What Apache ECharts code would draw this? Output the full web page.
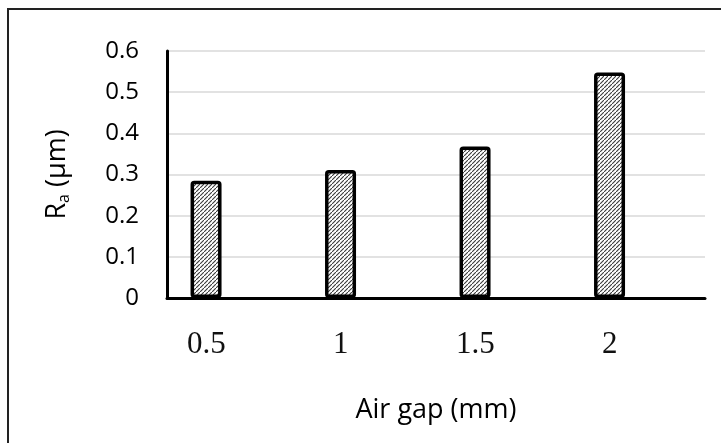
<!DOCTYPE html>
<html>
<head>
<meta charset="utf-8">
<script src="https://cdn.jsdelivr.net/npm/echarts@6/dist/echarts.min.js"></script>
<style>
  html, body { margin: 0; padding: 0; background: #fff; overflow: hidden; }
  #chart { position: absolute; left: 0; top: 0; width: 721px; height: 443px; }
  #frame { position: absolute; left: 7px; top: 8px; width: 740px; height: 460px;
           border-top: 2.5px solid #222; border-left: 2.5px solid #222; pointer-events: none; }
</style>
</head>
<body>
<div id="chart"></div>
<div id="frame"></div>
<script>
// ---- data ----
const categories = ['0.5', '1', '1.5', '2'];
const raValues = [0.285, 0.311, 0.368, 0.548];
const yTickLabels = ['0', '0.1', '0.2', '0.3', '0.4', '0.5', '0.6'];

// hatch pattern
function makeHatch() {
  const c = document.createElement('canvas');
  const s = 4;
  c.width = s; c.height = s;
  const g = c.getContext('2d');
  g.fillStyle = '#ffffff';
  g.fillRect(0, 0, s, s);
  g.strokeStyle = '#3a3a3a';
  g.lineWidth = 1.1;
  g.beginPath();
  g.moveTo(-1, s + 1); g.lineTo(s + 1, -1);
  g.moveTo(-s - 1, 1); g.lineTo(1, -s - 1);
  g.moveTo(s - 1, 2 * s + 1); g.lineTo(2 * s + 1, s - 1);
  g.stroke();
  return c;
}

const chart = echarts.init(document.getElementById('chart'), null, { renderer: 'canvas' });
const sans = '"Open Sans", "DejaVu Sans", sans-serif';
chart.setOption({
  animation: false,
  backgroundColor: '#ffffff',
  grid: { left: 167, right: 16, top: 51, bottom: 145, containLabel: false },
  xAxis: {
    type: 'category',
    data: categories,
    name: 'Air gap (mm)',
    nameLocation: 'middle',
    nameGap: 99,
    nameTextStyle: { fontFamily: sans, fontSize: 27, color: '#000' },
    axisLine: { show: true, lineStyle: { color: '#000', width: 3 } },
    axisTick: { show: false },
    splitLine: { show: false },
    axisLabel: {
      margin: 31,
      formatter: function (v) { return '{a|' + v + '}'; },
      rich: {
        a: { fontFamily: '"Liberation Serif", "Times New Roman", serif', fontSize: 31, color: '#111', padding: [0, 56, 0, 0] }
      }
    }
  },
  yAxis: {
    type: 'value',
    min: 0, max: 0.6, interval: 0.1,
    name: '{r|R}{s|a}{r| (μm)}',
    nameLocation: 'middle',
    nameGap: 95,
    nameTextStyle: {
      rich: {
        r: { fontFamily: sans, fontSize: 27, lineHeight: 30, color: '#000' },
        s: { fontFamily: sans, fontSize: 16, lineHeight: 16, verticalAlign: 'bottom', color: '#000' }
      }
    },
    axisLine: { show: true, lineStyle: { color: '#000', width: 3 } },
    axisTick: { show: false },
    splitLine: { show: true, lineStyle: { color: '#d9d9d9', width: 1.5 } },
    axisLabel: {
      margin: 28,
      fontFamily: sans, fontSize: 24, color: '#000',
      formatter: function (v) { return yTickLabels[Math.round(v * 10)]; }
    }
  },
  series: [
    {
      type: 'bar',
      data: raValues,
      barWidth: 31,
      barGap: '82%',
      itemStyle: {
        color: { image: makeHatch(), repeat: 'repeat' },
        borderColor: '#000',
        borderWidth: 3.5,
        borderRadius: 2
      }
    },
    {
      type: 'bar',
      data: categories.map(function () { return null; }),
      barWidth: 31,
      silent: true
    }
  ]
});
</script>
</body>
</html>
